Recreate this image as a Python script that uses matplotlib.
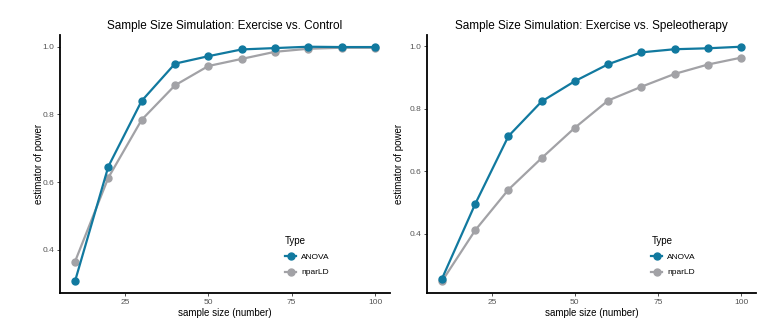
import matplotlib
matplotlib.use("Agg")
import matplotlib.pyplot as plt
from matplotlib.ticker import FixedLocator, FormatStrFormatter

plt.rcParams['font.family'] = ['Liberation Sans', 'DejaVu Sans']

sample_size = [10, 20, 30, 40, 50, 60, 70, 80, 90, 100]

control_anova = [0.307, 0.646, 0.840, 0.950, 0.972, 0.992, 0.996, 1.000, 0.999, 0.999]
control_nparld = [0.365, 0.613, 0.784, 0.886, 0.943, 0.964, 0.985, 0.994, 0.997, 0.997]

speleo_anova = [0.256, 0.495, 0.712, 0.823, 0.888, 0.942, 0.980, 0.990, 0.993, 0.998]
speleo_nparld = [0.248, 0.411, 0.541, 0.642, 0.739, 0.826, 0.870, 0.911, 0.941, 0.963]

titles = ["Sample Size Simulation: Exercise vs. Control",
          "Sample Size Simulation: Exercise vs. Speleotherapy"]
series_names = ["ANOVA", "nparLD"]
x_ticks = [25, 50, 75, 100]
y_ticks = [0.4, 0.6, 0.8, 1.0]

c_anova = "#11799F"
c_npar = "#A2A2A6"

fig = plt.figure(figsize=(7.77, 3.34), dpi=100)
ax1 = fig.add_axes([60/777, 41/334, 330/777, 258/334])
ax2 = fig.add_axes([427/777, 41/334, 329/777, 258/334])

panels = [(ax1, control_anova, control_nparld, titles[0], -0.05),
          (ax2, speleo_anova, speleo_nparld, titles[1], -0.071)]

for ax, a, n, t, ylx in panels:
    ax.plot(sample_size, n, color=c_npar, lw=1.6, marker='o', ms=5, label=series_names[1], zorder=2)
    ax.plot(sample_size, a, color=c_anova, lw=1.6, marker='o', ms=5, label=series_names[0], zorder=3)
    lo = min(min(a), min(n)); hi = max(max(a), max(n))
    pad = 0.05 * (hi - lo)
    ax.set_ylim(lo - pad, hi + pad)
    ax.set_xlim(10 - 4.5, 100 + 4.5)
    ax.xaxis.set_major_locator(FixedLocator(x_ticks))
    ax.yaxis.set_major_locator(FixedLocator(y_ticks))
    ax.yaxis.set_major_formatter(FormatStrFormatter('%.1f'))
    for s in ['top', 'right']:
        ax.spines[s].set_visible(False)
    for s in ['left', 'bottom']:
        ax.spines[s].set_linewidth(1.3)
        ax.spines[s].set_color('black')
    ax.tick_params(axis='both', labelsize=6, labelcolor='#555555', length=2.5, width=0.6, color='#333333', pad=1.5)
    ax.set_xlabel("sample size (number)", fontsize=7, labelpad=2)
    ax.set_ylabel("estimator of power", fontsize=7)
    ax.yaxis.set_label_coords(ylx, 0.5)
    ax.set_title(t, fontsize=8.5, pad=4)
    handles, labels = ax.get_legend_handles_labels()
    leg = ax.legend(handles[::-1], labels[::-1], title="Type", loc='lower right',
                    bbox_to_anchor=(0.84, 0.035), frameon=False, fontsize=6,
                    title_fontsize=7, handlelength=1.3, labelspacing=0.9, handletextpad=0.6)
    leg._legend_box.align = "left"

fig.savefig("out.png", dpi=100)
